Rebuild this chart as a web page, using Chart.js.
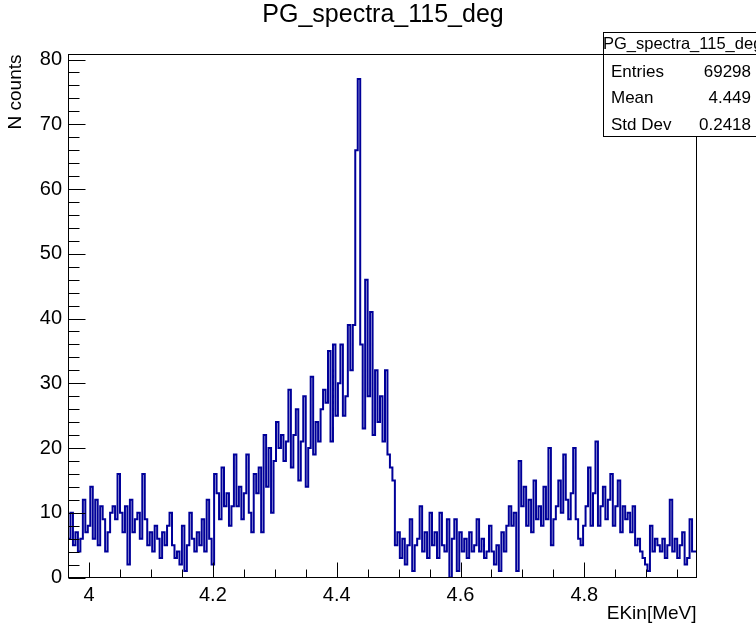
<!DOCTYPE html>
<html>
<head>
<title>PG_spectra_115_deg</title>
<script src="https://cdn.jsdelivr.net/npm/chart.js"></script>
<style>
  body { margin: 0; background: #fff; }
  #wrap { width: 756px; height: 626px; }
</style>
</head>
<body>
<div id="wrap"><canvas id="spectrum" width="756" height="626"></canvas></div>
<script>
// histogram binning (MeV)
const histName = 'PG_spectra_115_deg';
const binLow = 3.966;
const binWidth = 0.004;

// counts per bin, left to right
const counts = [
  9, 6, 10, 5, 7, 4, 6, 12, 7,                      // < 4.0
  8, 14, 6, 12, 5, 11, 9, 4, 7, 10, 11, 9,
  16, 10, 7, 11, 2, 12, 7, 9, 10, 6, 16,
  9, 5, 7, 4, 8, 6, 3, 7, 5, 8, 10, 5, 3, 4, 2,
  8, 1, 5, 10, 6, 4, 7, 5, 9, 4, 12, 6, 2,          // up to 4.2
  16, 13, 9, 17, 11, 13, 8, 11, 19, 11, 14, 9,
  13, 19, 10, 7, 16, 13, 17, 7, 22, 14, 20, 10,
  18, 24, 20, 22, 18, 21, 29, 17, 22, 26, 15, 21,
  28, 14, 20, 31, 19, 24, 21, 26, 29, 27, 35, 21,
  36, 25, 30, 36, 25, 28, 39, 32, 39, 66, 77, 36,   // 4.44 line
  23, 46, 28, 41, 22, 32, 24, 28, 21, 32, 19, 17, 15, 5,
  7, 3, 6, 2, 5, 9, 1, 5, 6, 11, 4, 7, 3, 10, 5, 7, 3, 10, 5,
  4, 9, 0, 6, 9, 1, 7, 4, 6, 3, 7, 4, 5, 9, 4, 6, 3, 4,
  8, 4, 2, 5, 1, 7, 4, 8, 11, 8, 10, 1, 18, 11, 14,
  8, 12, 7, 15, 9, 11, 8, 14, 9, 20, 5, 9, 11, 15, 10,
  19, 12, 9, 13, 20, 9, 6, 5, 8, 11, 17, 8, 13, 21, 8,
  11, 14, 9, 12, 16, 8, 11, 15, 7, 11, 9, 10, 7, 11, 5,
  6, 4, 3, 2, 1, 8, 4, 6, 5, 4, 6, 3, 5, 12, 4,
  6, 3, 5, 7, 2, 3, 9, 4
];

// stats box
const statNames = ['Entries', 'Mean', 'Std Dev'];
const statValues = ['69298', '4.449', '0.2418'];

const xTitle = 'EKin[MeV]';
const yTitle = 'N counts';

const binHigh = binLow + counts.length * binWidth;
const yMax = Math.max(...counts) * 1.05;

// bin edges -> step outline, closed down to zero at the right edge
const outline = counts.map((c, i) => ({ x: binLow + i * binWidth, y: c }));
outline.push({ x: binHigh, y: counts[counts.length - 1] });
outline.push({ x: binHigh, y: 0 });

const FONT = '"Liberation Sans", Arial, Helvetica, sans-serif';

const rootFrame = {
  id: 'rootFrame',
  afterDraw(chart) {
    const { ctx, chartArea: a, scales } = chart;
    const xs = scales.x, ys = scales.y;
    const L = Math.round(a.left) + 0.5, R = Math.round(a.right) - 0.5;
    const T = Math.round(a.top) + 0.5, B = Math.round(a.bottom) - 0.5;
    ctx.save();
    ctx.strokeStyle = '#000';
    ctx.lineWidth = 1;
    ctx.strokeRect(L, T, R - L, B - T);

    // ticks point inwards, minor every 0.05 / every 2
    ctx.beginPath();
    for (let k = Math.ceil(xs.min / 0.05 - 1e-6); k * 0.05 <= xs.max; k++) {
      const px = Math.round(xs.getPixelForValue(k * 0.05)) + 0.5;
      const len = k % 4 === 0 ? 15 : 8;
      ctx.moveTo(px, B);
      ctx.lineTo(px, B - len);
    }
    for (let k = 0; k * 2 <= ys.max; k++) {
      const py = Math.round(ys.getPixelForValue(k * 2)) + 0.5;
      const len = k % 5 === 0 ? 17 : 11;
      ctx.moveTo(L, py);
      ctx.lineTo(L + len, py);
    }
    ctx.stroke();

    ctx.fillStyle = '#000';
    ctx.textBaseline = 'middle';

    // title
    ctx.font = '25px ' + FONT;
    ctx.textAlign = 'center';
    ctx.fillText(histName, 383, 15);

    // axis titles, aligned to the axis ends
    ctx.font = '19px ' + FONT;
    ctx.textAlign = 'right';
    ctx.fillText(xTitle, R, 614);
    ctx.save();
    ctx.translate(16, T);
    ctx.rotate(-Math.PI / 2);
    ctx.fillText(yTitle, 0, 0);
    ctx.restore();

    // stats box
    const bx = 603.5, by = 32.5, bw = 170, bh = 104;
    ctx.fillStyle = '#fff';
    ctx.fillRect(bx, by, bw, bh);
    ctx.strokeRect(bx, by, bw, bh);
    ctx.beginPath();
    ctx.moveTo(bx, 54.5);
    ctx.lineTo(bx + bw, 54.5);
    ctx.stroke();
    ctx.fillStyle = '#000';
    ctx.font = '16.5px ' + FONT;
    ctx.textAlign = 'left';
    ctx.fillText(histName, 603, 44);
    ctx.font = '17px ' + FONT;
    statNames.forEach((name, i) => {
      const ty = 72 + i * 26.5;
      ctx.textAlign = 'left';
      ctx.fillText(name, 611, ty);
      ctx.textAlign = 'right';
      ctx.fillText(statValues[i], 751, ty);
    });
    ctx.restore();
  }
};

new Chart(document.getElementById('spectrum'), {
  type: 'line',
  data: {
    datasets: [{
      data: outline,
      borderColor: '#000099',
      borderWidth: 2,
      pointRadius: 0,
      stepped: 'after',
      fill: false
    }]
  },
  options: {
    responsive: false,
    animation: false,
    devicePixelRatio: 1,
    layout: { padding: { top: 54, right: 59, left: 0, bottom: 0 } },
    plugins: { legend: { display: false }, tooltip: { enabled: false }, title: { display: false } },
    scales: {
      x: {
        type: 'linear',
        min: binLow,
        max: binHigh,
        grid: { display: false, drawTicks: false, tickLength: 0 },
        border: { display: false },
        ticks: {
          stepSize: 0.2,
          includeBounds: false,
          maxRotation: 0,
          padding: 6,
          color: '#000',
          font: { family: FONT, size: 20 },
          callback: v => String(+v.toFixed(1))
        },
        afterFit: s => { s.height = 48.5; }
      },
      y: {
        min: 0,
        max: yMax,
        grid: { display: false, drawTicks: false, tickLength: 0 },
        border: { display: false },
        ticks: {
          stepSize: 10,
          includeBounds: false,
          padding: 6,
          color: '#000',
          font: { family: FONT, size: 20 },
          callback: v => String(Math.round(v))
        },
        afterFit: s => { s.width = 68; }
      }
    }
  },
  plugins: [rootFrame]
});
</script>
</body>
</html>
